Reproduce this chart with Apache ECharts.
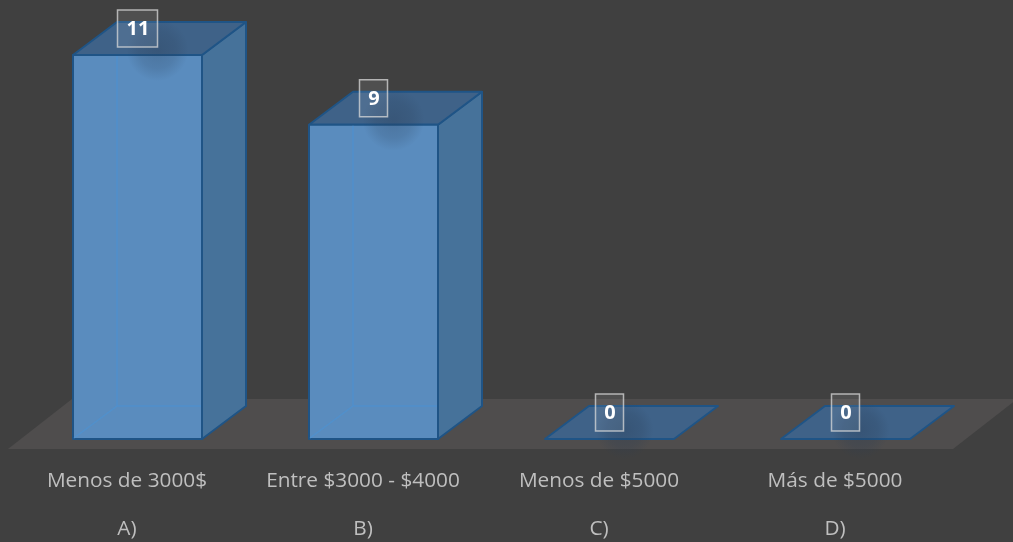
<!DOCTYPE html>
<html><head><meta charset="utf-8">
<style>html,body{margin:0;padding:0;background:#404040}#c{width:1013px;height:542px}</style>
<script src="https://cdn.jsdelivr.net/npm/echarts@6/dist/echarts.min.js"></script>
</head><body><div id="c"></div>
<script>
const categories = ['Menos de 3000$', 'Entre $3000 - $4000', 'Menos de $5000', 'Más de $5000'];
const letters = ['A)', 'B)', 'C)', 'D)'];
const values = [11, 9, 0, 0];

const chart = echarts.init(document.getElementById('c'), null, {renderer: 'canvas'});
const BAR_W = 129, DX = 44, DY = -33, SHIFT = 10.5;
const EDGE = '#1F5486';

function poly(points, fill, stroke, lw) {
  return {type: 'polygon', shape: {points},
    style: {fill, stroke: stroke || null, lineWidth: lw || 0, lineJoin: 'round'}};
}
function smudge(x, y, w, h, alpha) {
  return {type:'rect', shape:{x,y,width:w,height:h}, style:{fill:{
    type:'radial', x:0.5, y:0.5, r:0.5,
    colorStops:[{offset:0,color:`rgba(40,60,85,${alpha})`},{offset:0.6,color:`rgba(40,60,85,${alpha*0.6})`},{offset:1,color:'rgba(40,60,85,0)'}]
  }}};
}
function renderBar(params, api) {
  const idx = api.value(0), v = api.value(1);
  const base = api.coord([idx, 0]), top = api.coord([idx, v]);
  const xl = base[0] + SHIFT - BAR_W / 2, xr = xl + BAR_W, yb = base[1], yt = top[1];
  const cx = xl + BAR_W / 2;
  const kids = [];
  const P = (x, y, d) => d ? [x + DX, y + DY] : [x, y];
  if (v > 0) {
    kids.push(poly([P(xr,yt),P(xr,yt,1),P(xr,yb,1),P(xr,yb)], '#46729A', EDGE, 2));
    kids.push(poly([P(xl,yt),P(xr,yt),P(xr,yt,1),P(xl,yt,1)], '#3F6288', EDGE, 2));
    kids.push(poly([P(xl,yt),P(xr,yt),P(xr,yb),P(xl,yb)], '#5A8CBE', EDGE, 2));
    const hidden = {stroke:'rgba(78,145,208,0.75)', lineWidth:1.5};
    kids.push({type:'line', shape:{x1:xl+DX,y1:yt+1,x2:xl+DX,y2:yb+DY}, style:hidden});
    kids.push({type:'line', shape:{x1:xl+DX,y1:yb+DY,x2:xr-1,y2:yb+DY}, style:hidden});
    kids.push({type:'line', shape:{x1:xl+1,y1:yb-1,x2:xl+DX,y2:yb+DY}, style:hidden});
    kids.push(smudge(cx-26, yt-36, 92, 62, 0.30));
  } else {
    kids.push(poly([P(xl,yb),P(xr,yb),P(xr,yb,1),P(xl,yb,1)], '#3F6288', EDGE, 2));
    kids.push(smudge(cx-14, yb-38, 58, 58, 0.36));
  }
  const text = String(v), bw = text.length > 1 ? 41 : 29, bh = 38, ly = yt - 26;
  kids.push({type:'rect', shape:{x:cx-bw/2+0.5,y:ly-bh/2,width:bw-1,height:bh-1},
    style:{fill:'rgba(255,255,255,0.08)', stroke:'rgba(217,217,217,0.75)', lineWidth:1.5}});
  kids.push({type:'text', style:{x:cx+0.5,y:ly+0.5,text,fill:'#fff',
    font:'bold 20px "Open Sans", sans-serif', align:'center', verticalAlign:'middle'}});
  return {type:'group', children:kids};
}
function renderFloor(params, api) {
  const c = params.coordSys, yf = c.y + c.height + 10;
  return poly([[c.x-1,yf],[c.x+c.width,yf],[c.x+c.width+64,yf-50],[c.x+63,yf-50]], '#4F4D4D');
}
chart.setOption({
  backgroundColor: '#404040',
  animation: false,
  grid: {left: 9, right: 60, top: 55, bottom: 103, containLabel: false, outerBoundsMode: 'none'},
  xAxis: {type: 'category', data: categories,
    axisLine: {show:false}, axisTick: {show:false}, splitLine: {show:false},
    axisLabel: {interval:0, margin:18, lineHeight:48, fontSize:20.8, color:'#BFBFBF',
      fontFamily:'"Open Sans", sans-serif',
      formatter: (n, i) => n + '\n' + letters[i]}},
  yAxis: {type:'value', min:0, max:11, show:false},
  series: [
    {type:'custom', z:1, silent:true, data:[[0,0]], renderItem:renderFloor, clip:false},
    {type:'custom', z:2, data: values.map((v,i)=>[i,v]), renderItem:renderBar, clip:false,
     encode:{x:0,y:1}}
  ]
});
</script></body></html>
